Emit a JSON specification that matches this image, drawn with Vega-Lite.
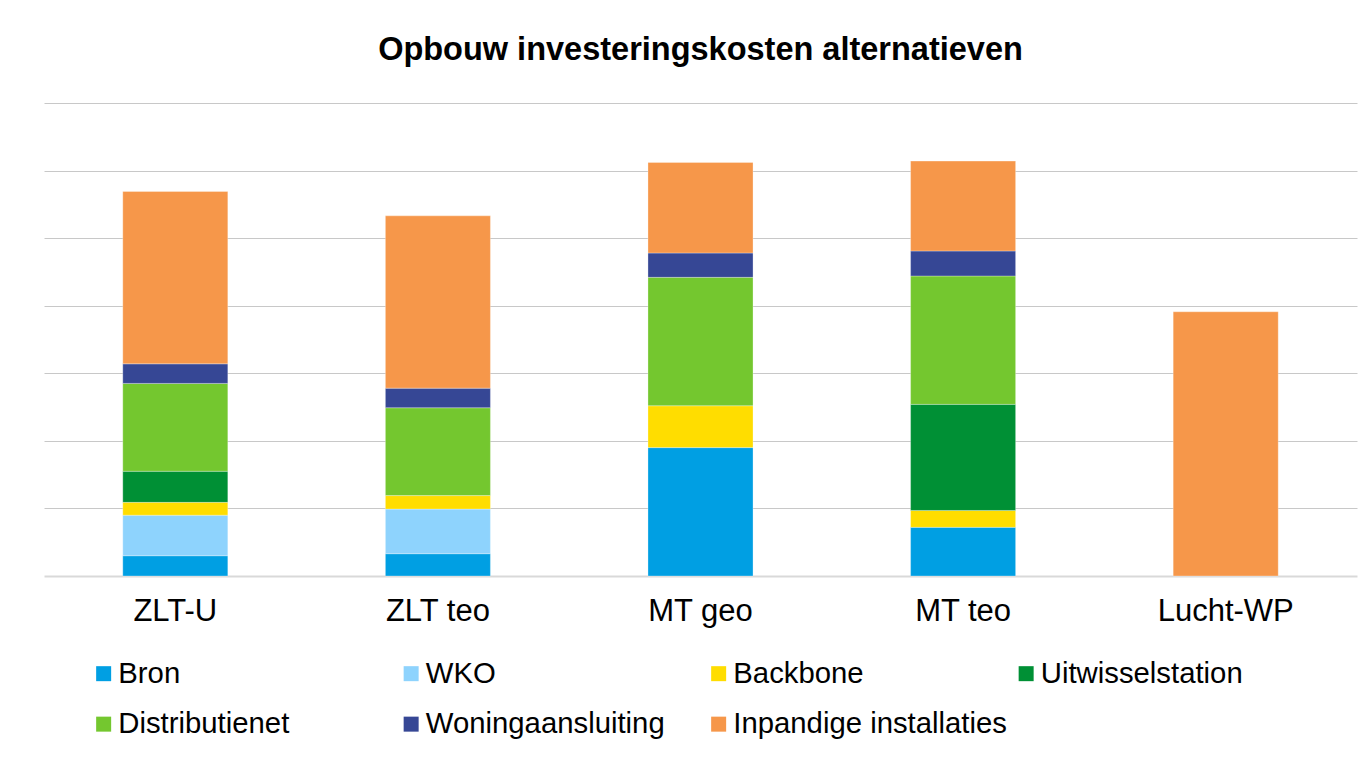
{
  "$schema": "https://vega.github.io/schema/vega-lite/v6.json",
  "autosize": "none",
  "width": 1313,
  "height": 473,
  "padding": {"left": 44, "top": 103, "right": 11, "bottom": 181},
  "background": "#ffffff",
  "title": {
    "text": "Opbouw investeringskosten alternatieven",
    "font": "Liberation Sans",
    "fontSize": 32.5,
    "fontWeight": "bold",
    "color": "#000000",
    "anchor": "middle",
    "baseline": "alphabetic",
    "offset": 11
  },
  "data": {
    "values": [
      {"alternatief": "ZLT-U", "onderdeel": "Bron", "o": 1, "kosten": 0.30},
      {"alternatief": "ZLT-U", "onderdeel": "WKO", "o": 2, "kosten": 0.60},
      {"alternatief": "ZLT-U", "onderdeel": "Backbone", "o": 3, "kosten": 0.19},
      {"alternatief": "ZLT-U", "onderdeel": "Uitwisselstation", "o": 4, "kosten": 0.46},
      {"alternatief": "ZLT-U", "onderdeel": "Distributienet", "o": 5, "kosten": 1.30},
      {"alternatief": "ZLT-U", "onderdeel": "Woningaansluiting", "o": 6, "kosten": 0.29},
      {"alternatief": "ZLT-U", "onderdeel": "Inpandige installaties", "o": 7, "kosten": 2.55},
      {"alternatief": "ZLT teo", "onderdeel": "Bron", "o": 1, "kosten": 0.33},
      {"alternatief": "ZLT teo", "onderdeel": "WKO", "o": 2, "kosten": 0.66},
      {"alternatief": "ZLT teo", "onderdeel": "Backbone", "o": 3, "kosten": 0.20},
      {"alternatief": "ZLT teo", "onderdeel": "Distributienet", "o": 5, "kosten": 1.30},
      {"alternatief": "ZLT teo", "onderdeel": "Woningaansluiting", "o": 6, "kosten": 0.29},
      {"alternatief": "ZLT teo", "onderdeel": "Inpandige installaties", "o": 7, "kosten": 2.55},
      {"alternatief": "MT geo", "onderdeel": "Bron", "o": 1, "kosten": 1.90},
      {"alternatief": "MT geo", "onderdeel": "Backbone", "o": 3, "kosten": 0.62},
      {"alternatief": "MT geo", "onderdeel": "Distributienet", "o": 5, "kosten": 1.90},
      {"alternatief": "MT geo", "onderdeel": "Woningaansluiting", "o": 6, "kosten": 0.36},
      {"alternatief": "MT geo", "onderdeel": "Inpandige installaties", "o": 7, "kosten": 1.34},
      {"alternatief": "MT teo", "onderdeel": "Bron", "o": 1, "kosten": 0.72},
      {"alternatief": "MT teo", "onderdeel": "Backbone", "o": 3, "kosten": 0.25},
      {"alternatief": "MT teo", "onderdeel": "Uitwisselstation", "o": 4, "kosten": 1.57},
      {"alternatief": "MT teo", "onderdeel": "Distributienet", "o": 5, "kosten": 1.90},
      {"alternatief": "MT teo", "onderdeel": "Woningaansluiting", "o": 6, "kosten": 0.37},
      {"alternatief": "MT teo", "onderdeel": "Inpandige installaties", "o": 7, "kosten": 1.33},
      {"alternatief": "Lucht-WP", "onderdeel": "Inpandige installaties", "o": 7, "kosten": 3.91}
    ]
  },
  "mark": {"type": "bar", "stroke": "#ffffff", "strokeWidth": 0.6, "strokeOpacity": 0.5},
  "encoding": {
    "x": {
      "field": "alternatief",
      "type": "nominal",
      "sort": ["ZLT-U", "ZLT teo", "MT geo", "MT teo", "Lucht-WP"],
      "scale": {"paddingInner": 0.6, "paddingOuter": 0.3},
      "axis": {
        "title": null,
        "labelAngle": 0,
        "labelFont": "Liberation Sans",
        "labelFontSize": 31,
        "labelColor": "#000000",
        "labelPadding": 20,
        "ticks": false,
        "domainColor": "#d9d9d9",
        "domainWidth": 2,
        "grid": false
      }
    },
    "y": {
      "field": "kosten",
      "type": "quantitative",
      "stack": "zero",
      "scale": {"domain": [0, 7], "nice": false},
      "axis": {
        "title": null,
        "labels": false,
        "ticks": false,
        "domain": false,
        "grid": true,
        "gridColor": "#c8c8c8",
        "gridWidth": 1,
        "values": [1, 2, 3, 4, 5, 6, 7]
      }
    },
    "color": {
      "field": "onderdeel",
      "type": "nominal",
      "scale": {
        "domain": ["Bron", "WKO", "Backbone", "Uitwisselstation", "Distributienet", "Woningaansluiting", "Inpandige installaties"],
        "range": ["#009FE3", "#8ED3FD", "#FFDD00", "#009035", "#74C72F", "#364795", "#F6974A"]
      },
      "legend": {
        "title": null,
        "orient": "none",
        "legendX": 45,
        "legendY": 556,
        "direction": "horizontal",
        "columns": 4,
        "gridAlign": "all",
        "columnPadding": 4.5,
        "rowPadding": 20.5,
        "padding": 0,
        "symbolType": "square",
        "symbolSize": 225,
        "symbolStrokeWidth": 0,
        "labelFont": "Liberation Sans",
        "labelFontSize": 29.3,
        "labelColor": "#000000",
        "labelOffset": 0,
        "labelLimit": 400
      }
    },
    "order": {"field": "o", "type": "quantitative"}
  },
  "config": {
    "view": {"stroke": null}
  }
}
